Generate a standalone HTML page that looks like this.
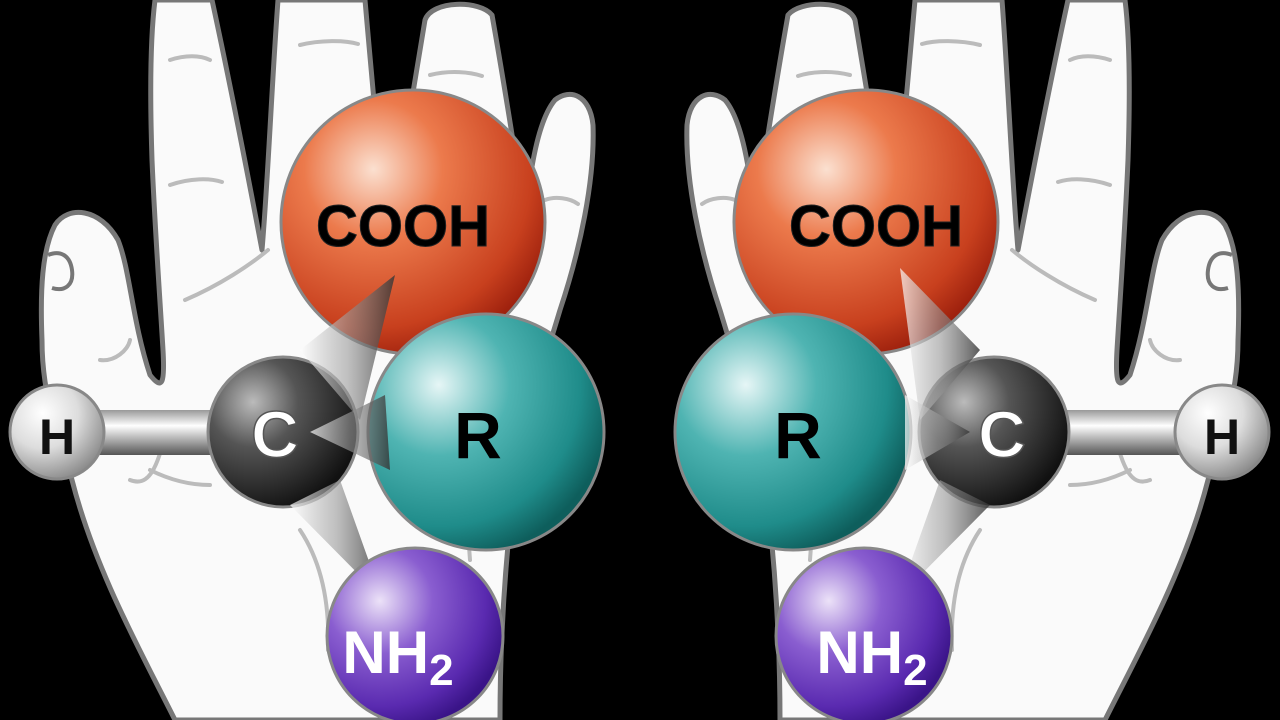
<!DOCTYPE html>
<html><head><meta charset="utf-8"><style>
html,body{margin:0;padding:0;background:#000;width:1280px;height:720px;overflow:hidden}
svg{display:block}
text{font-family:"Liberation Sans",sans-serif;font-weight:bold}
</style></head><body>
<svg width="1280" height="720" viewBox="0 0 1280 720">
<defs>
<radialGradient id="gO" cx="0.35" cy="0.3" r="0.75"><stop offset="0" stop-color="#fbe0d0"/><stop offset="0.35" stop-color="#ec7a4c"/><stop offset="0.8" stop-color="#c8401e"/><stop offset="1" stop-color="#9a1e0c"/></radialGradient>
<radialGradient id="gR" cx="0.3" cy="0.3" r="0.75"><stop offset="0" stop-color="#e6f6f6"/><stop offset="0.4" stop-color="#4fb4b2"/><stop offset="0.8" stop-color="#1f8c8a"/><stop offset="1" stop-color="#0e5e5c"/></radialGradient>
<radialGradient id="gN" cx="0.3" cy="0.3" r="0.75"><stop offset="0" stop-color="#ece2f8"/><stop offset="0.4" stop-color="#8a5ed0"/><stop offset="0.8" stop-color="#5a2ab0"/><stop offset="1" stop-color="#3a1488"/></radialGradient>
<radialGradient id="gC" cx="0.3" cy="0.3" r="0.75"><stop offset="0" stop-color="#bbb"/><stop offset="0.4" stop-color="#555"/><stop offset="1" stop-color="#111"/></radialGradient>
<radialGradient id="gH" cx="0.35" cy="0.3" r="0.75"><stop offset="0" stop-color="#fff"/><stop offset="0.5" stop-color="#ddd"/><stop offset="1" stop-color="#888"/></radialGradient>
<linearGradient id="gB" x1="0" y1="0" x2="0" y2="1"><stop offset="0" stop-color="#999"/><stop offset="0.35" stop-color="#fff"/><stop offset="1" stop-color="#555"/></linearGradient>
<linearGradient id="gW" x1="0" y1="0" x2="1" y2="0"><stop offset="0" stop-color="#fff" stop-opacity="0.7"/><stop offset="0.5" stop-color="#999" stop-opacity="0.6"/><stop offset="1" stop-color="#333" stop-opacity="0.8"/></linearGradient>
<g id="hand">
<path d="M175,720 C140,650 95,570 72,480 C60,440 42,400 42,340 C40,290 42,250 55,225 C68,205 100,208 118,240 C130,270 132,320 150,375 C162,390 165,385 163,350 C160,300 155,230 152,160 C150,100 150,40 155,0 L212,0 C225,60 245,160 262,250 C268,180 272,80 278,0 L365,0 C372,80 380,170 388,245 C400,170 415,80 425,20 C432,0 480,0 492,15 C500,60 515,150 525,220 C530,170 538,120 555,100 C570,88 590,95 593,125 C595,180 580,250 560,310 C545,360 525,420 515,480 C505,560 500,640 500,720 Z" fill="#fafafa" stroke="#777" stroke-width="5" stroke-linejoin="round"/>
<g fill="none" stroke="#bbb" stroke-width="4" stroke-linecap="round">
<path d="M170,60 C185,55 200,55 210,60"/><path d="M170,185 C190,178 210,178 222,182"/>
<path d="M300,45 C320,40 345,40 358,44"/><path d="M310,150 C330,145 350,146 362,150"/>
<path d="M430,75 C450,70 470,72 482,76"/><path d="M450,180 C465,178 485,180 495,186"/>
<path d="M545,200 C555,196 570,198 578,204"/><path d="M185,300 C220,285 250,265 268,250"/>
<path d="M100,360 C115,362 128,350 130,340"/><path d="M150,470 C170,480 190,485 210,485"/>
<path d="M300,530 C320,560 330,600 328,650"/><path d="M480,400 C470,450 465,500 470,560"/>
<path d="M130,480 C155,490 160,450 170,420"/>
</g>
<path d="M48,255 C60,250 70,255 72,270 C74,285 65,292 52,288" fill="none" stroke="#777" stroke-width="4"/>
</g>
</defs>
<use href="#hand"/>
<use href="#hand" transform="translate(1280,0) scale(-1,1)"/>

<!-- LEFT molecule -->
<rect x="95" y="410" width="125" height="45" fill="url(#gB)"/>
<circle cx="57" cy="432" r="47" fill="url(#gH)" stroke="#888" stroke-width="3"/>
<text x="57" y="454" font-size="50" text-anchor="middle" fill="#111">H</text>
<circle cx="413" cy="222" r="132" fill="url(#gO)" stroke="#888" stroke-width="3"/>
<text x="403" y="246" font-size="58" text-anchor="middle" fill="#000" stroke="#222" stroke-width="1">COOH</text>
<circle cx="283" cy="432" r="75" fill="url(#gC)" stroke="#888" stroke-width="3"/>
<polygon points="300,350 395,275 360,420" fill="url(#gW)"/>
<circle cx="486" cy="432" r="118" fill="url(#gR)" stroke="#888" stroke-width="3"/>
<polygon points="310,432 385,395 390,470" fill="url(#gW)"/>
<polygon points="290,505 340,480 382,598" fill="url(#gW)"/>
<text x="275" y="457" font-size="66" text-anchor="middle" fill="#fff" stroke="#555" stroke-width="1.5">C</text>
<text x="478" y="458" font-size="66" text-anchor="middle" fill="#000">R</text>
<circle cx="415" cy="636" r="88" fill="url(#gN)" stroke="#888" stroke-width="3"/>
<text x="398" y="673" font-size="60" text-anchor="middle" fill="#fff">NH<tspan font-size="44" dy="12">2</tspan></text>

<!-- RIGHT molecule -->
<rect x="1060" y="410" width="125" height="45" fill="url(#gB)"/>
<circle cx="1222" cy="432" r="47" fill="url(#gH)" stroke="#888" stroke-width="3"/>
<text x="1222" y="454" font-size="50" text-anchor="middle" fill="#111">H</text>
<circle cx="866" cy="222" r="132" fill="url(#gO)" stroke="#888" stroke-width="3"/>
<text x="876" y="246" font-size="58" text-anchor="middle" fill="#000" stroke="#222" stroke-width="1">COOH</text>
<circle cx="994" cy="432" r="75" fill="url(#gC)" stroke="#888" stroke-width="3"/>
<polygon points="980,350 900,268 920,420" fill="url(#gW)"/>
<circle cx="793" cy="432" r="118" fill="url(#gR)" stroke="#888" stroke-width="3"/>
<polygon points="970,432 905,395 905,470" fill="url(#gW)"/>
<polygon points="990,505 940,480 898,598" fill="url(#gW)"/>
<text x="1002" y="457" font-size="66" text-anchor="middle" fill="#fff" stroke="#555" stroke-width="1.5">C</text>
<text x="798" y="458" font-size="66" text-anchor="middle" fill="#000">R</text>
<circle cx="864" cy="636" r="88" fill="url(#gN)" stroke="#888" stroke-width="3"/>
<text x="872" y="673" font-size="60" text-anchor="middle" fill="#fff">NH<tspan font-size="44" dy="12">2</tspan></text>
</svg>
</body></html>
